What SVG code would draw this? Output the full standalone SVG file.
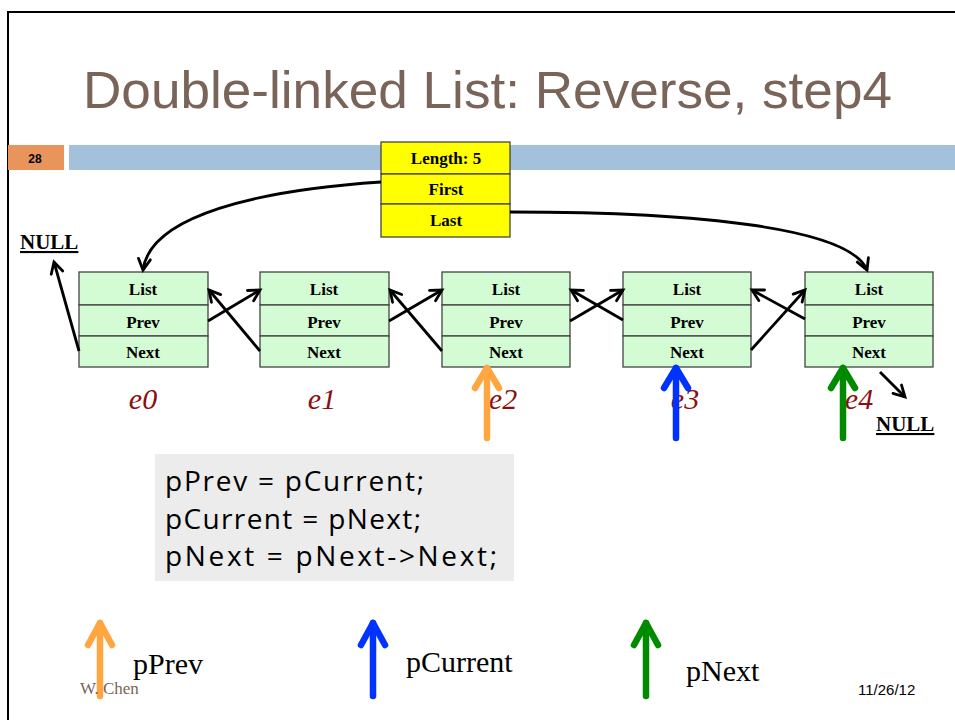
<svg xmlns="http://www.w3.org/2000/svg" width="955" height="720" viewBox="0 0 955 720">
<style>
.nd{fill:#d4fcd4;stroke:#444;stroke-width:1.3}
.yb{fill:#ffff00;stroke:#444;stroke-width:1.3}
.ft{font-family:"Liberation Serif",serif;font-weight:bold;font-size:17px;text-anchor:middle}
.el{font-family:"Liberation Serif",serif;font-style:italic;font-size:30px;fill:#8b1010;text-anchor:middle}
.ln{fill:none;stroke:#000;stroke-width:2.8}
.null{font-family:"Liberation Serif",serif;font-weight:bold;font-size:21px;text-decoration:underline}
.lg{font-family:"Liberation Serif",serif;font-size:30px}
.code{font-family:"Comic Sans MS","Open Sans",sans-serif;font-size:28px}
</style>
<defs>
<marker id="ah" markerUnits="userSpaceOnUse" viewBox="0 0 16 16" markerWidth="16" markerHeight="16" refX="13" refY="8" orient="auto">
<path d="M2,2 L13,8 L2,14" fill="none" stroke="#000" stroke-width="2.8" stroke-linecap="round"/>
</marker>
</defs>
<rect width="955" height="720" fill="#fff"/>
<path d="M8,720 V12 H955" fill="none" stroke="#000" stroke-width="2"/>
<text x="83" y="108" font-family="Liberation Sans,sans-serif" font-size="52" fill="#7a6358" textLength="809" lengthAdjust="spacingAndGlyphs">Double-linked List: Reverse, step4</text>
<rect x="8" y="145" width="56" height="25" fill="#e8945a"/>
<text x="35" y="163" font-family="Liberation Sans,sans-serif" font-weight="bold" font-size="12" text-anchor="middle">28</text>
<rect x="69" y="145" width="886" height="25" fill="#a3c1da"/>

<g id="listhead">
<rect class="yb" x="381" y="142" width="129" height="32"/>
<rect class="yb" x="381" y="174" width="129" height="30"/>
<rect class="yb" x="381" y="204" width="129" height="33"/>
<text class="ft" x="446" y="164">Length: 5</text>
<text class="ft" x="446" y="195">First</text>
<text class="ft" x="446" y="226">Last</text>
</g>

<g id="e0">
<rect class="nd" x="79" y="272" width="129" height="33"/><rect class="nd" x="79" y="305" width="129" height="31"/><rect class="nd" x="79" y="336" width="129" height="31"/>
<text class="ft" x="143" y="295">List</text><text class="ft" x="143" y="328">Prev</text><text class="ft" x="143" y="358">Next</text>
<text class="el" x="143" y="409">e0</text>
</g>
<g id="e1">
<rect class="nd" x="260" y="272" width="129" height="33"/><rect class="nd" x="260" y="305" width="129" height="31"/><rect class="nd" x="260" y="336" width="129" height="31"/>
<text class="ft" x="324" y="295">List</text><text class="ft" x="324" y="328">Prev</text><text class="ft" x="324" y="358">Next</text>
<text class="el" x="322" y="409">e1</text>
</g>
<g id="e2">
<rect class="nd" x="442" y="272" width="128" height="33"/><rect class="nd" x="442" y="305" width="128" height="31"/><rect class="nd" x="442" y="336" width="128" height="31"/>
<text class="ft" x="506" y="295">List</text><text class="ft" x="506" y="328">Prev</text><text class="ft" x="506" y="358">Next</text>
<text class="el" x="503" y="409">e2</text>
</g>
<g id="e3">
<rect class="nd" x="623" y="272" width="128" height="33"/><rect class="nd" x="623" y="305" width="128" height="31"/><rect class="nd" x="623" y="336" width="128" height="31"/>
<text class="ft" x="687" y="295">List</text><text class="ft" x="687" y="328">Prev</text><text class="ft" x="687" y="358">Next</text>
<text class="el" x="685" y="409">e3</text>
</g>
<g id="e4">
<rect class="nd" x="805" y="272" width="128" height="33"/><rect class="nd" x="805" y="305" width="128" height="31"/><rect class="nd" x="805" y="336" width="128" height="31"/>
<text class="ft" x="869" y="295">List</text><text class="ft" x="869" y="328">Prev</text><text class="ft" x="869" y="358">Next</text>
<text class="el" x="859" y="409">e4</text>
</g>

<text class="null" x="20" y="249">NULL</text>
<text class="null" x="876" y="431">NULL</text>

<g id="connectors">
<path class="ln" d="M381,182 C260,190 150,215 143,270" marker-end="url(#ah)"/>
<path class="ln" d="M510,212 C700,212 850,228 867,270" marker-end="url(#ah)"/>
<path class="ln" d="M79,351 L54,262" marker-end="url(#ah)"/>
<path class="ln" d="M208,321 L260,290" marker-end="url(#ah)"/>
<path class="ln" d="M260,351 L209,290" marker-end="url(#ah)"/>
<path class="ln" d="M389,321 L442,290" marker-end="url(#ah)"/>
<path class="ln" d="M442,351 L390,290" marker-end="url(#ah)"/>
<path class="ln" d="M570,321 L623,290" marker-end="url(#ah)"/>
<path class="ln" d="M623,320 L571,290" marker-end="url(#ah)"/>
<path class="ln" d="M751,350 L805,290" marker-end="url(#ah)"/>
<path class="ln" d="M805,319 L752,290" marker-end="url(#ah)"/>
<path class="ln" d="M880,372 L905,397" marker-end="url(#ah)"/>
</g>

<g id="pointers" fill="none" stroke-width="6.5" stroke-linecap="round" stroke-linejoin="round">
<g stroke="#ffa640"><path d="M487,438 V368"/><path d="M475,388 L487,368 L499,388"/></g>
<g stroke="#0033ff"><path d="M676,438 V368"/><path d="M664,388 L676,368 L688,388"/></g>
<g stroke="#008a00"><path d="M843,438 V368"/><path d="M831,388 L843,368 L855,388"/></g>
</g>

<g id="code">
<rect x="155" y="454" width="359" height="127" fill="#ececec"/>
<text class="code" x="165" y="491" textLength="259">pPrev = pCurrent;</text>
<text class="code" x="165" y="529" textLength="256">pCurrent = pNext;</text>
<text class="code" x="165" y="566" textLength="332">pNext = pNext-&gt;Next;</text>
</g>

<g id="legend" fill="none" stroke-width="6.5" stroke-linecap="round" stroke-linejoin="round">
<g stroke="#ffa640"><path d="M100,696 V623"/><path d="M88,645 L100,623 L112,645"/></g>
<g stroke="#0033ff"><path d="M373,696 V623"/><path d="M361,645 L373,623 L385,645"/></g>
<g stroke="#008a00"><path d="M646,696 V623"/><path d="M634,645 L646,623 L658,645"/></g>
</g>
<text class="lg" x="133" y="674">pPrev</text>
<text class="lg" x="406" y="672">pCurrent</text>
<text class="lg" x="686" y="681">pNext</text>
<text x="80" y="694" font-family="Liberation Serif,serif" font-size="17" fill="#7a6358">W. Chen</text>
<text x="858" y="695" font-family="Liberation Sans,sans-serif" font-size="15">11/26/12</text>
</svg>
